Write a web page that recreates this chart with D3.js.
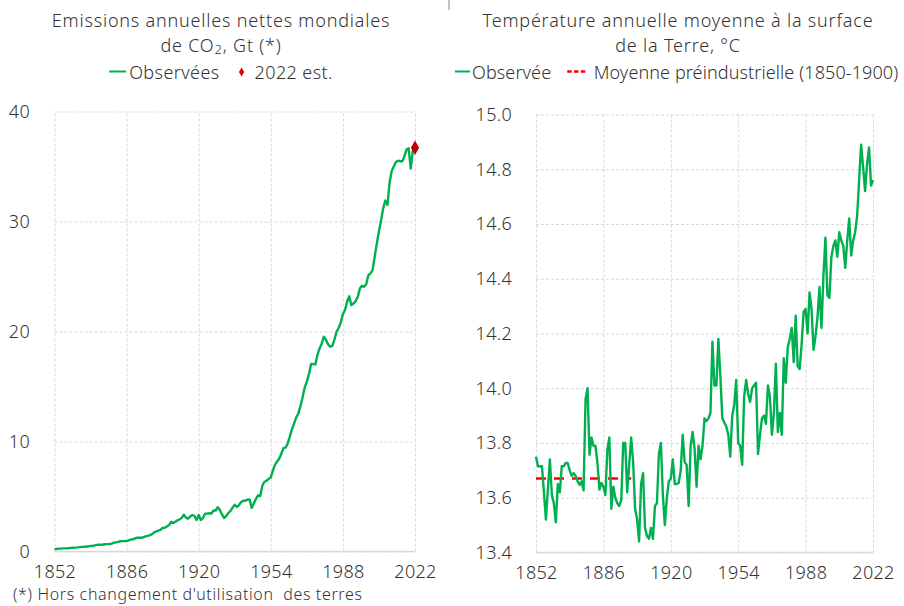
<!DOCTYPE html>
<html><head><meta charset="utf-8">
<script src="https://cdn.jsdelivr.net/npm/d3@7"></script>
<style>
body{margin:0;background:#fff}
text{font-family:"Noto Sans",sans-serif;fill:#333;font-weight:300}
</style>
</head><body>
<svg id="chart" width="904" height="606"></svg>
<script>
// ---------- DATA ----------
const xTicks = [1852, 1886, 1920, 1954, 1988, 2022];
const co2Ticks = [0, 10, 20, 30, 40];
const tempTicks = [13.4, 13.6, 13.8, 14.0, 14.2, 14.4, 14.6, 14.8, 15.0];

const co2StartYear = 1852;
const co2Values = [
  0.22, 0.23, 0.26, 0.26, 0.28, 0.28, 0.29, 0.31,
  0.33, 0.34, 0.35, 0.37, 0.40, 0.42, 0.43, 0.45, 0.46, 0.50,
  0.52, 0.55, 0.60, 0.63, 0.60, 0.64, 0.66, 0.67, 0.68, 0.72,
  0.80, 0.83, 0.87, 0.93, 0.94, 0.94, 0.95, 1.01, 1.09, 1.10,
  1.19, 1.25, 1.26, 1.25, 1.30, 1.38, 1.42, 1.49, 1.58, 1.74,
  1.83, 1.90, 1.96, 2.14, 2.16, 2.28, 2.40, 2.70, 2.60, 2.71,
  2.84, 2.92, 3.05, 3.34, 3.08, 2.99, 3.19, 3.32, 3.23, 2.86,
  3.31, 2.87, 3.04, 3.43, 3.44, 3.48, 3.46, 3.73, 3.73, 4.02,
  3.77, 3.37, 3.04, 3.23, 3.50, 3.69, 4.00, 4.25, 4.04, 4.22,
  4.50, 4.61, 4.62, 4.72, 4.73, 3.97, 4.37, 4.79, 5.10, 5.03,
  5.98, 6.34, 6.43, 6.61, 6.73, 7.38, 7.90, 8.18, 8.45, 8.91,
  9.40, 9.44, 9.85, 10.47, 11.13, 11.65, 12.19, 12.55, 13.22, 14.02,
  14.90, 15.44, 16.12, 17.04, 17.03, 17.01, 17.88, 18.46, 18.89, 19.52,
  19.26, 18.84, 18.62, 18.70, 19.26, 19.96, 20.32, 20.83, 21.57, 21.96,
  22.70, 23.20, 22.40, 22.55, 22.75, 23.15, 23.90, 24.15, 24.06, 24.30,
  25.10, 25.29, 25.58, 26.81, 28.00, 29.10, 30.10, 31.20, 31.90, 31.50,
  33.50, 34.60, 35.00, 35.40, 35.53, 35.48, 35.48, 35.92, 36.55, 36.65,
  34.81, 36.50
];
const co2EstimateYear = 2022;
const co2EstimateValue = 36.7;

const tempStartYear = 1852;
const tempValues = [
  13.75, 13.715, 13.715, 13.715, 13.62, 13.52, 13.63, 13.74,
  13.61, 13.58, 13.51, 13.65, 13.62, 13.715, 13.715, 13.727, 13.727, 13.70,
  13.68, 13.69, 13.68, 13.66, 13.647, 13.66, 13.627, 13.96, 14.00, 13.757,
  13.82, 13.79, 13.79, 13.727, 13.63, 13.654, 13.64, 13.61, 13.776, 13.82,
  13.56, 13.64, 13.60, 13.58, 13.57, 13.59, 13.80, 13.80, 13.62, 13.72,
  13.82, 13.73, 13.56, 13.52, 13.44, 13.65, 13.69, 13.49, 13.46, 13.45,
  13.49, 13.45, 13.57, 13.58, 13.76, 13.80, 13.61, 13.50, 13.60, 13.66,
  13.67, 13.74, 13.65, 13.65, 13.655, 13.70, 13.83, 13.73, 13.72, 13.57,
  13.79, 13.84, 13.78, 13.64, 13.79, 13.74, 13.79, 13.89, 13.88, 13.89,
  13.91, 14.17, 14.01, 14.01, 14.18, 14.045, 13.89, 13.875, 13.86, 13.83,
  13.75, 13.90, 13.94, 14.03, 13.80, 13.79, 13.72, 13.97, 14.03, 13.98,
  13.95, 14.00, 14.01, 14.02, 13.76, 13.83, 13.89, 13.90, 13.87, 14.01,
  13.97, 13.83, 13.91, 14.09, 13.84, 13.91, 13.83, 14.11, 14.02, 14.15,
  14.18, 14.22, 14.095, 14.265, 14.08, 14.07, 14.16, 14.28, 14.29, 14.20,
  14.35, 14.29, 14.14, 14.19, 14.26, 14.37, 14.22, 14.41, 14.55, 14.34,
  14.33, 14.48, 14.52, 14.54, 14.48, 14.57, 14.54, 14.52, 14.44, 14.54,
  14.62, 14.485, 14.54, 14.57, 14.63, 14.76, 14.89, 14.81, 14.72, 14.82,
  14.88, 14.74, 14.76
];
const preindustrialMean = 13.67;
const preindustrialYears = [1852, 1900];

const leftTitle = ["Emissions annuelles nettes mondiales", "de CO", "2", ", Gt (*)"];
const rightTitle = ["Température annuelle moyenne à la surface", "de la Terre, °C"];
const leftLegend = ["Observées", "2022 est."];
const rightLegend = ["Observée", "Moyenne préindustrielle (1850-1900)"];
const footnote = "(*) Hors changement d'utilisation\u00a0 des terres";

// ---------- DRAW ----------
const svg = d3.select("#chart");
const GREEN = "#00b050", GRID = "#d9d9d9";

const co2Data = co2Values.map((v, i) => ({year: co2StartYear + i, value: v}));
const tempData = tempValues.map((v, i) => ({year: tempStartYear + i, value: v}));

function panel(cfg) {
  const x = d3.scaleLinear().domain([1852, 2022]).range([cfg.x0, cfg.x1]);
  const y = d3.scaleLinear().domain(cfg.yDomain).range([cfg.y0, cfg.y1]);
  const g = svg.append("g");
  const xa = g.append("g").attr("transform", `translate(0,${cfg.y0})`)
    .call(d3.axisBottom(x).tickValues(xTicks).tickFormat(d3.format("d"))
      .tickSize(-(cfg.y0 - cfg.y1)).tickPadding(14));
  xa.select(".domain").remove();
  xa.selectAll("line").attr("stroke", GRID).attr("stroke-dasharray", "3,2");
  xa.selectAll("text").attr("font-size", 18).attr("fill", "#333")
    .attr("font-family", '"Noto Sans",sans-serif').style("letter-spacing", "0.3px");
  const ya = g.append("g").attr("transform", `translate(${cfg.x0},0)`)
    .call(d3.axisLeft(y).tickValues(cfg.yTicks).tickFormat(cfg.fmt)
      .tickSize(-(cfg.x1 - cfg.x0)).tickPadding(cfg.pad));
  ya.select(".domain").remove();
  ya.selectAll("line").attr("stroke", GRID).attr("stroke-dasharray", "3,2");
  ya.selectAll("text").attr("font-size", 18).attr("fill", "#333")
    .attr("font-family", '"Noto Sans",sans-serif').style("letter-spacing", "0.3px");
  g.append("line").attr("x1", cfg.x0).attr("x2", cfg.x1)
    .attr("y1", cfg.y0).attr("y2", cfg.y0)
    .attr("stroke", GRID).attr("stroke-width", 1.5);
  return {x, y, g};
}

// Left panel
const L = panel({x0: 54.5, x1: 415, y0: 551.5, y1: 111.5, yDomain: [0, 40],
  yTicks: co2Ticks, fmt: d3.format("d"), pad: 24.5});
L.g.append("path").datum(co2Data)
  .attr("fill", "none").attr("stroke", GREEN).attr("stroke-width", 2.4)
  .attr("stroke-linejoin", "round")
  .attr("d", d3.line().x(d => L.x(d.year)).y(d => L.y(d.value)));
L.g.append("path")
  .attr("d", d3.symbol(d3.symbolDiamond, 60)())
  .attr("transform", `translate(${L.x(co2EstimateYear)},${L.y(co2EstimateValue)})`)
  .attr("fill", "#c00000");

// Right panel
const R = panel({x0: 536, x1: 873, y0: 552.5, y1: 114.5, yDomain: [13.4, 15.0],
  yTicks: tempTicks, fmt: d3.format(".1f"), pad: 24});
R.g.append("line")
  .attr("x1", R.x(preindustrialYears[0])).attr("x2", R.x(preindustrialYears[1]))
  .attr("y1", R.y(preindustrialMean)).attr("y2", R.y(preindustrialMean))
  .attr("stroke", "#ff0000").attr("stroke-width", 2.5).attr("stroke-dasharray", "10,8");
R.g.append("path").datum(tempData)
  .attr("fill", "none").attr("stroke", GREEN).attr("stroke-width", 2.4)
  .attr("stroke-linejoin", "round")
  .attr("d", d3.line().x(d => R.x(d.year)).y(d => R.y(d.value)));

// Titles
function title(cx, lines) {
  lines.forEach((l, i) => {
    const t = svg.append("text").attr("x", cx).attr("y", 26.5 + i * 25.5)
      .attr("text-anchor", "middle").attr("font-size", 18).style("letter-spacing", "0.8px");
    l.forEach(part => {
      const ts = t.append("tspan").text(part.t);
      if (part.sub) ts.attr("font-size", 13).attr("dy", 2);
      if (part.after) ts.attr("dy", -2);
    });
  });
}
title(221, [[{t: leftTitle[0]}], [{t: leftTitle[1]}, {t: leftTitle[2], sub: true}, {t: leftTitle[3], after: true}]]);
title(678, [[{t: rightTitle[0]}], [{t: rightTitle[1]}]]);

// Legends
function legend(pos, anchor, ls, maxRight, items) {
  const g = svg.append("g");
  let cur = 0;
  items.forEach(it => {
    if (it.type === "line") {
      g.append("line").attr("x1", cur).attr("x2", cur + it.w).attr("y1", 71.5).attr("y2", 71.5)
        .attr("stroke", it.color).attr("stroke-width", it.sw).attr("stroke-dasharray", it.dash || null);
      cur += it.w + it.gap;
    } else if (it.type === "diamond") {
      g.append("path").attr("d", d3.symbol(d3.symbolDiamond, 24)())
        .attr("transform", `translate(${cur + 3.5},72)`).attr("fill", it.color);
      cur += 7 + it.gap;
    } else {
      const t = g.append("text").attr("x", cur).attr("y", 78.5).attr("font-size", 18)
        .style("letter-spacing", ls).text(it.text);
      cur += t.node().getBBox().width + it.gap;
    }
  });
  const w = g.node().getBBox().width;
  let left = anchor === "middle" ? pos - w / 2 : pos;
  if (left + w > maxRight) left = maxRight - w;
  g.attr("transform", `translate(${left},0)`);
}
legend(221, "middle", "0.4px", 445, [
  {type: "line", w: 17, gap: 3, color: GREEN, sw: 2},
  {type: "text", text: leftLegend[0], gap: 18.5},
  {type: "diamond", color: "#e00000", gap: 9.5},
  {type: "text", text: leftLegend[1], gap: 0}
]);
legend(455, "start", "0.1px", 902, [
  {type: "line", w: 15, gap: 2, color: GREEN, sw: 2},
  {type: "text", text: rightLegend[0], gap: 16},
  {type: "line", w: 18, gap: 8.5, color: "#ff0000", sw: 2.5, dash: "4.5,2.3"},
  {type: "text", text: rightLegend[1], gap: 0}
]);

svg.append("line").attr("x1", 449).attr("x2", 449).attr("y1", 0).attr("y2", 10)
  .attr("stroke", "#888").attr("stroke-width", 1);

svg.append("text").attr("x", 13).attr("y", 600).attr("font-size", 16)
  .style("letter-spacing", "0.64px").text(footnote);
</script>
</body></html>
